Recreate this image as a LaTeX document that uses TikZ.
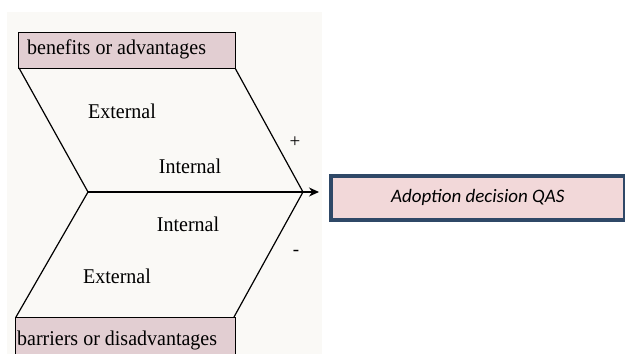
\documentclass[tikz,border=0pt]{standalone}
\usepackage{fontspec}
\setmainfont{Liberation Serif}
\newfontfamily\calib{Carlito}
\usetikzlibrary{arrows.meta}
\definecolor{scanbg}{HTML}{FAF9F6}
\definecolor{pinkbox}{HTML}{E2CED2}
\definecolor{qasfill}{HTML}{F2D8D9}
\definecolor{qasborder}{HTML}{2F4867}
\begin{document}
\begin{tikzpicture}[x=1pt,y=-1pt,
  chev/.style={line width=1.2pt, black},
  labelbox/.style={draw=black, line width=1.1pt, fill=pinkbox},
  lbl/.style={font=\fontsize{20}{22}\selectfont, inner sep=0pt, yscale=1.05},
  sign/.style={font=\fontsize{19}{20}\selectfont, inner sep=0pt},
  qas/.style={draw=qasborder, line width=3.5pt, fill=qasfill, inner sep=0pt,
    font=\calib\itshape\fontsize{19}{20}\selectfont}]
\useasboundingbox (0,0) rectangle (625,354);
\clip (0,0) rectangle (625,354);
\fill[scanbg] (7,12) rectangle (322,354);
% coordinates of the chevron
\coordinate (tl) at (19,68);
\coordinate (tr) at (235,68);
\coordinate (ml) at (88,192);
\coordinate (mr) at (303,192);
\coordinate (bl) at (16,317);
\coordinate (br) at (234,317);
% boxes
\node[labelbox, minimum width=217pt, minimum height=36pt, anchor=north west] (ben) at (18,32) {};
\node[labelbox, minimum width=220pt, minimum height=50pt, anchor=north west] (bar) at (15,317) {};
\node[lbl, anchor=west] (bentext) at (27,49) {benefits or advantages};
\node[lbl, anchor=west] (bartext) at (17,340) {barriers or disadvantages};
% chevron lines
\draw[chev] (tl) -- (ml) -- (bl);
\draw[chev] (tr) -- (mr) -- (br);
% QAS box
\node[qas, minimum width=294pt, minimum height=44pt, anchor=north west] (qas) at (329,174) {Adoption decision QAS};
% arrow
\draw[chev, -{Stealth[length=10pt,width=9pt]}] (ml) -- ([xshift=-10pt]qas.west |- ml);
% texts
\node[lbl] (ext1) at (122,111) {External};
\node[lbl] (int1) at (190,166) {Internal};
\node[sign] (plus) at (295,142) {+};
\node[lbl] (int2) at (188,224) {Internal};
\node[lbl] (ext2) at (117,276) {External};
\node[sign] (minus) at (296,253) {-};
\end{tikzpicture}
\end{document}
